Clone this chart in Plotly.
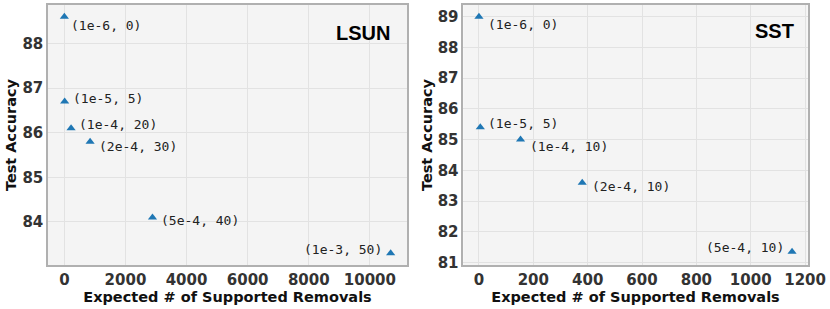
import plotly.graph_objects as go

# LSUN panel data
lsun_x = [0, 10, 220, 843, 2885, 10680]
lsun_y = [88.6, 86.7, 86.1, 85.8, 84.1, 83.3]
lsun_labels = ["(1e-6, 0)", "(1e-5, 5)", "(1e-4, 20)", "(2e-4, 30)", "(5e-4, 40)", "(1e-3, 50)"]

# SST panel data
sst_x = [0, 5, 153, 380, 1152]
sst_y = [89.0, 85.4, 85.0, 83.6, 81.35]
sst_labels = ["(1e-6, 0)", "(1e-5, 5)", "(1e-4, 10)", "(2e-4, 10)", "(5e-4, 10)"]

# label placement offsets (px) relative to marker: (xshift, yshift, xanchor)
lsun_offsets = [(5, -9, "left"), (6, 3, "left"), (6, 4, "left"), (7, -5, "left"), (7, -3, "left"), (-7, 4, "right")]
sst_offsets = [(7, -8, "left"), (6, 4, "left"), (7, -7, "left"), (8, -4, "left"), (-6, 4, "right")]

TICK_FONT = dict(family="DejaVu Sans", size=15, color="#333333")
TITLE_FONT = dict(family="DejaVu Sans", size=14.5, color="#111111")
ANN_FONT = dict(family="DejaVu Sans Mono", size=13, color="#222222")
BLUE = "#1f77b4"

fig = go.Figure()
fig.add_trace(go.Scatter(x=lsun_x, y=lsun_y, mode="markers", xaxis="x", yaxis="y",
                         marker=dict(symbol="triangle-up", size=8, color=BLUE), showlegend=False))
fig.add_trace(go.Scatter(x=sst_x, y=sst_y, mode="markers", xaxis="x2", yaxis="y2",
                         marker=dict(symbol="triangle-up", size=8, color=BLUE), showlegend=False))

anns = []
for x, y, t, (dx, dy, xa) in zip(lsun_x, lsun_y, lsun_labels, lsun_offsets):
    anns.append(dict(x=x, y=y, xref="x", yref="y", text=t, showarrow=False,
                     xanchor=xa, yanchor="middle", xshift=dx, yshift=dy, font=ANN_FONT))
for x, y, t, (dx, dy, xa) in zip(sst_x, sst_y, sst_labels, sst_offsets):
    anns.append(dict(x=x, y=y, xref="x2", yref="y2", text=t, showarrow=False,
                     xanchor=xa, yanchor="middle", xshift=dx, yshift=dy, font=ANN_FONT))

# panel titles
anns.append(dict(x=391.5 / 830, y=1 - 32.5 / 309, xref="paper", yref="paper", text="<b>LSUN</b>",
                 showarrow=False, xanchor="right", yanchor="middle",
                 font=dict(family="Liberation Sans", size=20, color="black")))
anns.append(dict(x=795.7 / 830, y=1 - 31.5 / 309, xref="paper", yref="paper", text="<b>SST</b>",
                 showarrow=False, xanchor="right", yanchor="middle",
                 font=dict(family="Liberation Sans", size=20, color="black")))

def xax(domain, rng, tickvals, anchor):
    return dict(domain=domain, range=rng, tickvals=tickvals, anchor=anchor, automargin=False,
                ticktext=[f"<b>{v}</b>" for v in tickvals],
                tickfont=TICK_FONT, showgrid=True, gridcolor="#e2e2e2", gridwidth=1,
                zeroline=False, showline=True, linecolor="#b0b0b0", linewidth=1.5, mirror=True,
                ticks="", ticklen=0,
                title=dict(text="<b>Expected # of Supported Removals</b>", font=TITLE_FONT, standoff=2))

def yax(domain, rng, tickvals, anchor):
    return dict(domain=domain, range=rng, tickvals=tickvals, anchor=anchor, automargin=False,
                ticktext=[f"<b>{v}</b>" for v in tickvals],
                tickfont=TICK_FONT, showgrid=True, gridcolor="#e2e2e2", gridwidth=1,
                zeroline=False, showline=True, linecolor="#b0b0b0", linewidth=1.5, mirror=True,
                ticks="", ticklen=0,
                title=dict(text="<b>Test Accuracy</b>", font=TITLE_FONT, standoff=2))

ydom = [44 / 309, 304 / 309]
fig.update_layout(
    width=830, height=309,
    margin=dict(l=0, r=0, t=0, b=0),
    paper_bgcolor="white", plot_bgcolor="#f4f4f4",
    xaxis=xax([48 / 830, 407 / 830], [-535, 11215], [0, 2000, 4000, 6000, 8000, 10000], "y"),
    yaxis=yax(ydom, [83.035, 88.865], [84, 85, 86, 87, 88], "x"),
    xaxis2=xax([463.3 / 830, 807.7 / 830], [-57.6, 1209.6], [0, 200, 400, 600, 800, 1000, 1200], "y2"),
    yaxis2=yax(ydom, [80.92, 89.38], [81, 82, 83, 84, 85, 86, 87, 88, 89], "x2"),
    annotations=anns,
)

fig.write_html("out.html", config={"displayModeBar": False},
               post_script="document.body.style.margin='0px';document.body.style.padding='0px';document.body.style.overflow='hidden';")
